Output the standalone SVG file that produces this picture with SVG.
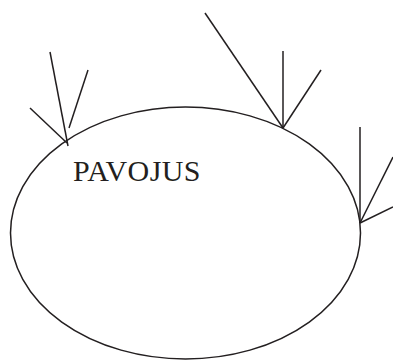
<svg xmlns="http://www.w3.org/2000/svg" width="393" height="360" viewBox="0 0 393 360">
<style>
.ln{stroke:#231f20;stroke-width:1.5;fill:none;stroke-linecap:butt}
.lbl{font-family:"Liberation Serif","Times New Roman",serif;font-size:30px;letter-spacing:0.4px;fill:#231f20}
</style>
<rect width="393" height="360" fill="#fff"/>
<g id="node-pavojus">
<ellipse class="ln" cx="185.5" cy="233" rx="175" ry="126"/>
<text class="lbl" x="73" y="181">PAVOJUS</text>
</g>
<g id="connectors">
<line class="ln" x1="50" y1="52" x2="68" y2="146"/>
<line class="ln" x1="88" y1="70" x2="69" y2="128"/>
<line class="ln" x1="30" y1="108" x2="67" y2="143"/>
<line class="ln" x1="205" y1="13" x2="283" y2="128"/>
<line class="ln" x1="283" y1="51" x2="283" y2="128"/>
<line class="ln" x1="321" y1="70" x2="283" y2="128"/>
<line class="ln" x1="360" y1="127" x2="360" y2="223"/>
<line class="ln" x1="393" y1="157" x2="360" y2="223"/>
<line class="ln" x1="393" y1="207" x2="360" y2="223"/>
</g>
</svg>
